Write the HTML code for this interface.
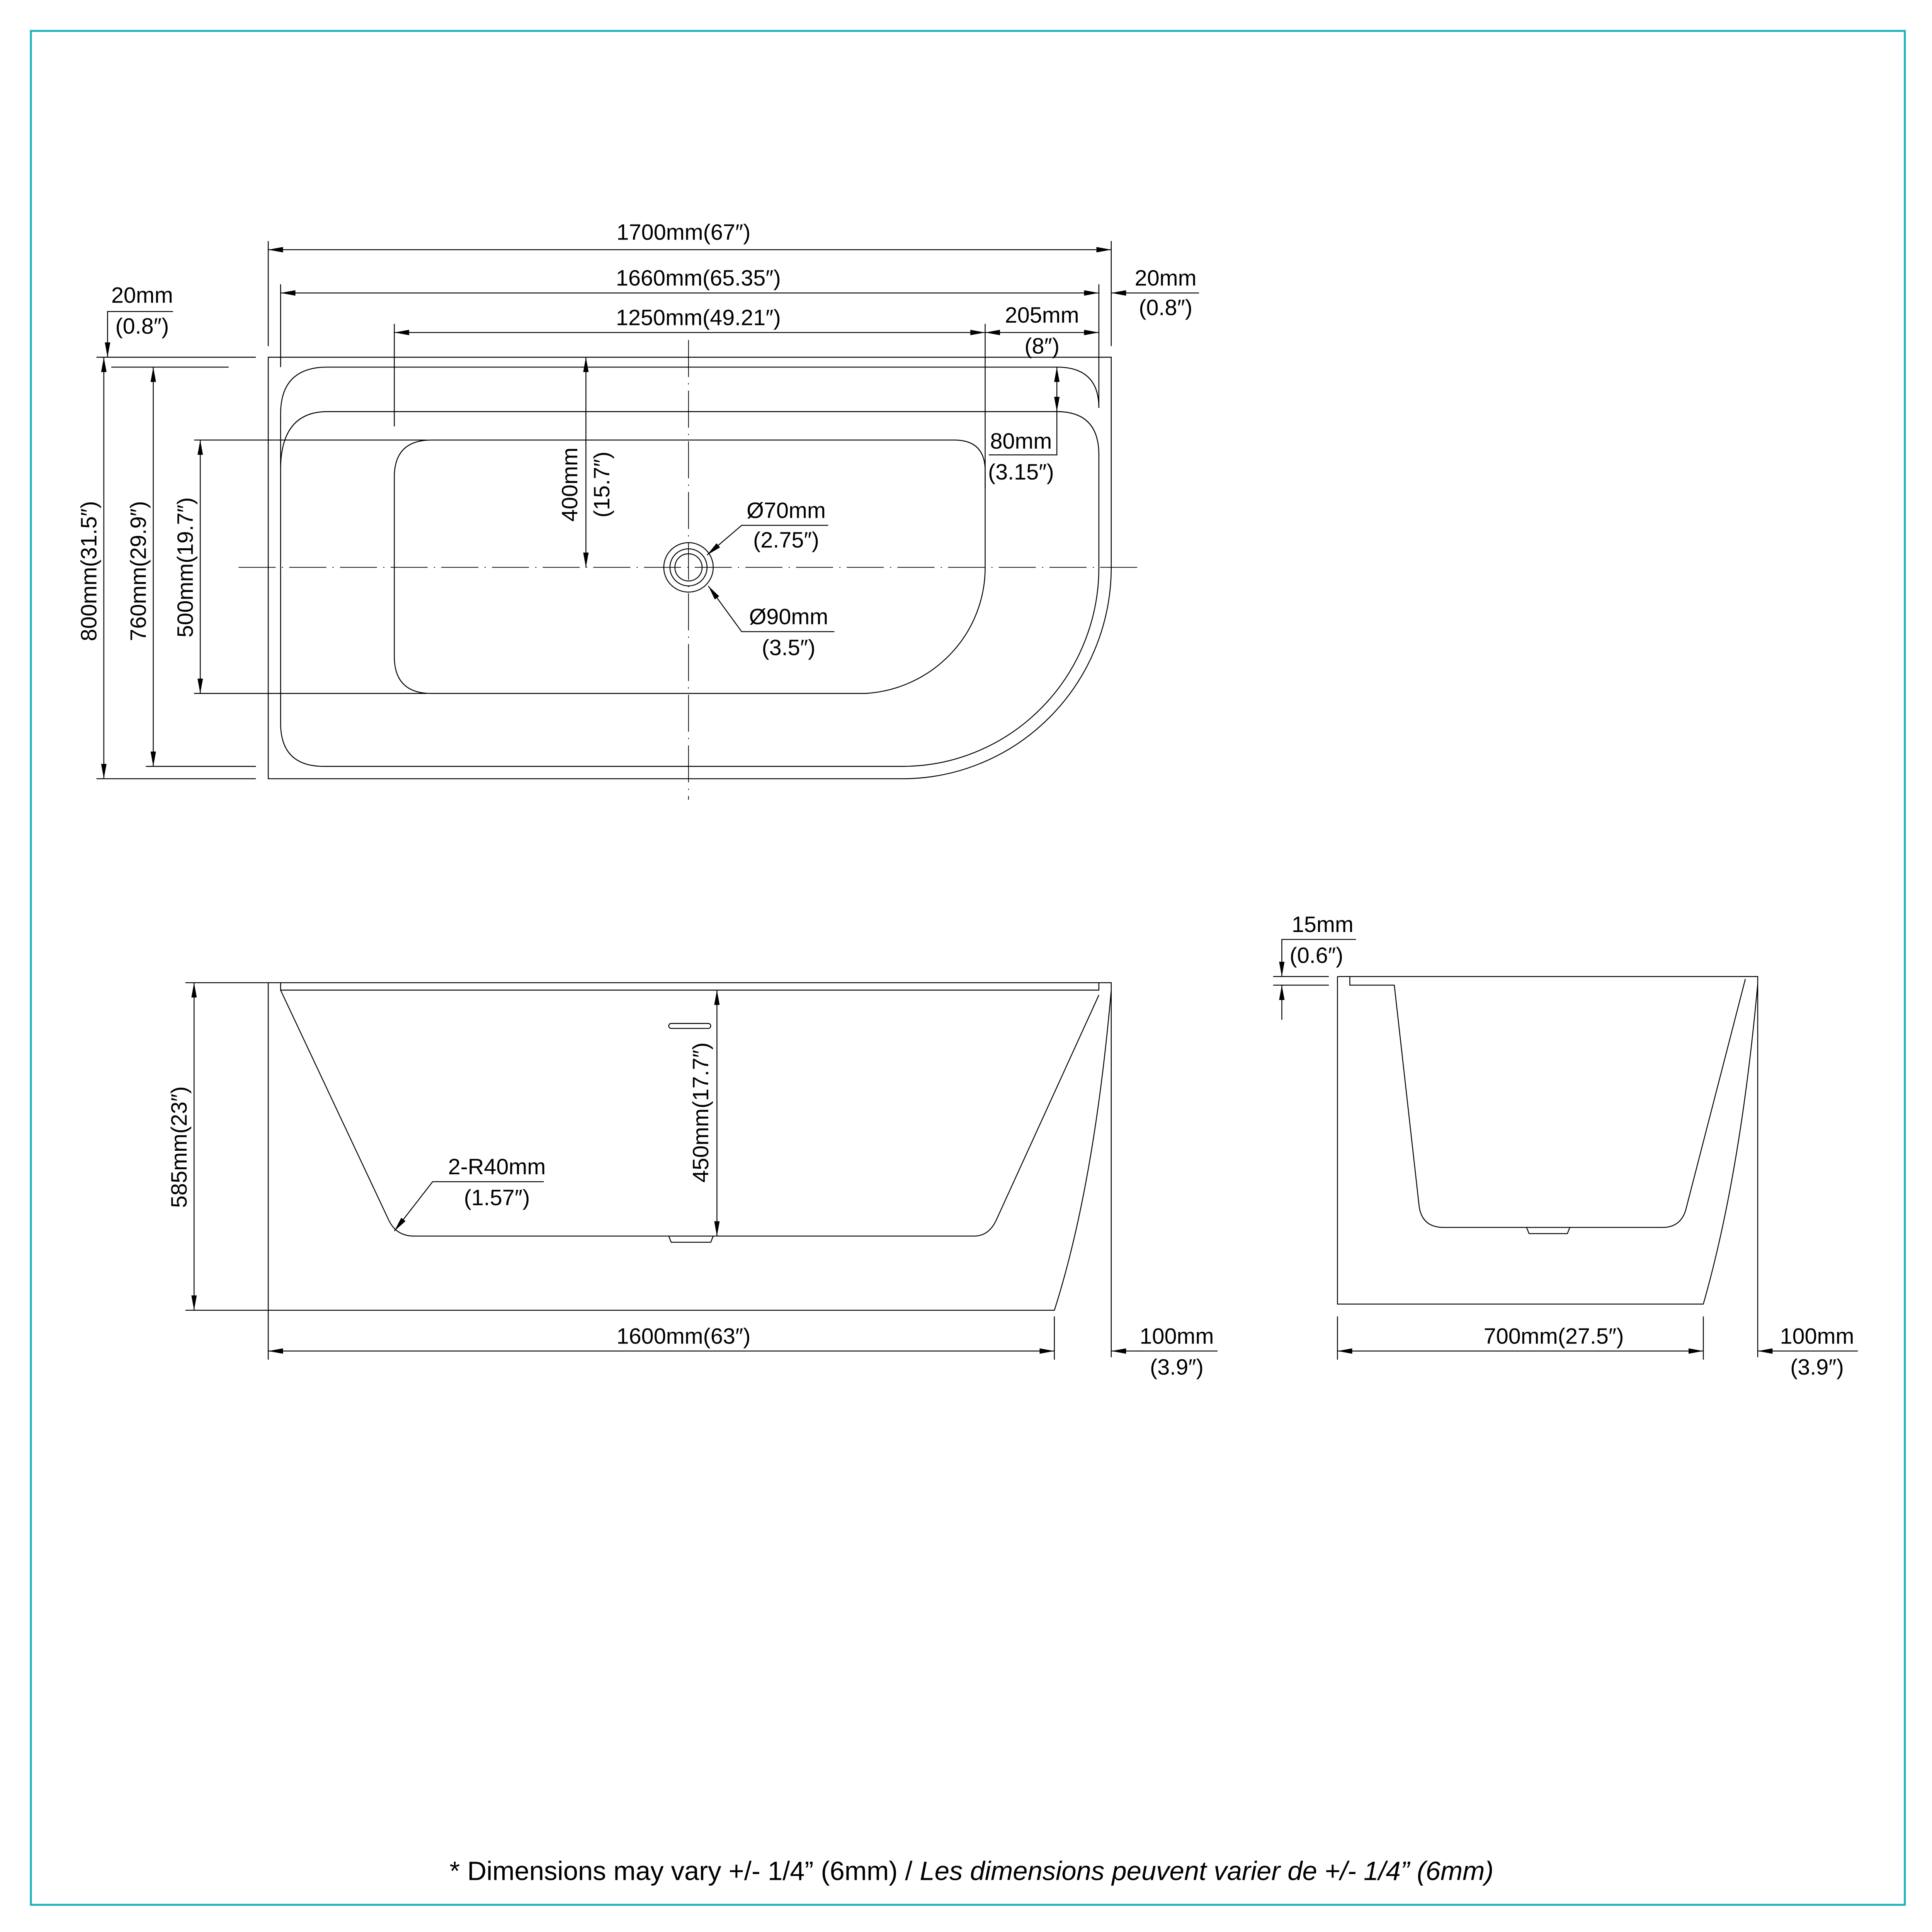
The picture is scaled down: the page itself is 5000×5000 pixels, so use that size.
<!DOCTYPE html>
<html><head><meta charset="utf-8"><style>
html,body{margin:0;padding:0;background:#fff}
svg{display:block}
text{font-family:"Liberation Sans",sans-serif;font-size:18px;fill:#000}
</style></head><body>
<svg width="5000" height="5000" viewBox="0 0 1563 1563" xmlns="http://www.w3.org/2000/svg">
<defs>
<marker id="a" markerUnits="userSpaceOnUse" markerWidth="12" markerHeight="6" refX="12" refY="3" orient="auto-start-reverse" viewBox="0 0 12 6"><path d="M12,3 L0,0.8 L0,5.2 Z" fill="#000"/></marker>
</defs>
<rect x="25" y="25" width="1516" height="1516" fill="none" stroke="#1ab3bf" stroke-width="1.6"/>
<g fill="none" stroke="#000" stroke-width="0.75">
<!-- TOP VIEW -->
<path d="M217,289 L899,289 L899,459 A169,171 0 0 1 730,630 L217,630 Z"/>
<path d="M227,335 Q227,297 265,297 L855,297 Q889,297 889,330"/>
<path d="M227,380 Q227,333 265,333 L855,333 Q889,333 889,368 L889,459 A159,161 0 0 1 730,620 L262,620 Q227,620 227,585 L227,335"/>
<path d="M349,356 L772,356 Q797,356 797,381 L797,459 A103,102 0 0 1 700,561 L349,561 Q319,561 319,531 L319,386 Q319,356 349,356 Z"/>
<circle cx="557" cy="459" r="20"/><circle cx="557" cy="459" r="15"/><circle cx="557" cy="459" r="11"/>
<path d="M193,459 L923,459 M557,275 L557,647" stroke-width="0.6" stroke-dasharray="30,5,1,5"/>
<path d="M217,195 L217,280 M899,195 L899,280 M227,230 L227,297 M889,230 L889,330 M319,262 L319,345 M797,262 L797,395"/>
<path d="M78,289 L207,289 M78,630 L207,630 M90,297 L185,297 M118,620 L207,620 M157,356 L345,356 M157,561 L345,561"/>
<path d="M217,202 L899,202" marker-start="url(#a)" marker-end="url(#a)"/>
<path d="M227,237 L889,237" marker-start="url(#a)" marker-end="url(#a)"/>
<path d="M319,269 L797,269" marker-start="url(#a)" marker-end="url(#a)"/>
<path d="M797,269 L889,269" marker-start="url(#a)" marker-end="url(#a)"/>
<path d="M915,237 L899,237" marker-end="url(#a)"/><path d="M915,237 L970,237"/>
<path d="M84,289 L84,630" marker-start="url(#a)" marker-end="url(#a)"/>
<path d="M124,297 L124,620" marker-start="url(#a)" marker-end="url(#a)"/>
<path d="M162,356 L162,561" marker-start="url(#a)" marker-end="url(#a)"/>
<path d="M140,252 L87,252 L87,289" marker-end="url(#a)"/>
<path d="M474,289 L474,459" marker-start="url(#a)" marker-end="url(#a)"/>
<path d="M855,297 L855,333" marker-start="url(#a)" marker-end="url(#a)"/>
<path d="M855,333 L855,368 L800,368"/>
<path d="M670,425 L600,425 L572,449" marker-end="url(#a)"/>
<path d="M675,511 L600,511 L573,474" marker-end="url(#a)"/>
<!-- FRONT VIEW -->
<path d="M217,795 L899,795 L899,1098 M217,795 L217,1100 M217,1060 L853,1060 Q885,960 899,801"/>
<path d="M227,795 L227,801 L889,801 L889,795"/>
<path d="M227,801 L314,986 Q320,1000 335,1000 L788,1000 Q800,1000 806,987 L889,805"/>
<rect x="541" y="828" width="34" height="4" rx="2"/>
<path d="M541,1000 L543,1005 L575,1005 L577,1000"/>
<path d="M580,801 L580,1000" marker-start="url(#a)" marker-end="url(#a)"/>
<path d="M150,795 L217,795 M150,1060 L217,1060"/>
<path d="M157,795 L157,1060" marker-start="url(#a)" marker-end="url(#a)"/>
<path d="M440,956 L350,956 L319,996" marker-end="url(#a)"/>
<path d="M853,1065 L853,1100"/>
<path d="M217,1093 L853,1093" marker-start="url(#a)" marker-end="url(#a)"/>
<path d="M915,1093 L899,1093" marker-end="url(#a)"/><path d="M915,1093 L985,1093"/>
<!-- SIDE VIEW -->
<path d="M1082,790 L1422,790 L1422,1098 M1082,790 L1082,1055 L1378,1055 Q1408,950 1422,796"/>
<path d="M1092,790 L1092,797 L1128,797 L1148,975 Q1150,993 1168,993 L1345,993 Q1360,993 1364,978 L1412,792"/>
<path d="M1235,993 L1237,998 L1268,998 L1270,993"/>
<path d="M1030,790 L1075,790 M1030,797 L1075,797"/>
<path d="M1097,760 L1037,760 L1037,790" marker-end="url(#a)"/>
<path d="M1037,825 L1037,797" marker-end="url(#a)"/>
<path d="M1082,1065 L1082,1100 M1378,1065 L1378,1100"/>
<path d="M1082,1093 L1378,1093" marker-start="url(#a)" marker-end="url(#a)"/>
<path d="M1438,1093 L1422,1093" marker-end="url(#a)"/><path d="M1438,1093 L1503,1093"/>
</g>
<g text-anchor="middle">
<text x="553" y="194">1700mm(67″)</text>
<text x="565" y="231">1660mm(65.35″)</text>
<text x="565" y="263">1250mm(49.21″)</text>
<text x="843" y="261">205mm</text>
<text x="843" y="286">(8″)</text>
<text x="943" y="231">20mm</text>
<text x="943" y="255">(0.8″)</text>
<text x="115" y="245">20mm</text>
<text x="115" y="270">(0.8″)</text>
<text x="826" y="363">80mm</text>
<text x="826" y="388">(3.15″)</text>
<text x="636" y="419">Ø70mm</text>
<text x="636" y="443">(2.75″)</text>
<text x="638" y="505">Ø90mm</text>
<text x="638" y="530">(3.5″)</text>
<text transform="translate(78,462) rotate(-90)">800mm(31.5″)</text>
<text transform="translate(118,462) rotate(-90)">760mm(29.9″)</text>
<text transform="translate(156,459) rotate(-90)">500mm(19.7″)</text>
<text transform="translate(467,392) rotate(-90)">400mm</text>
<text transform="translate(493,392) rotate(-90)">(15.7″)</text>
<text transform="translate(151,928) rotate(-90)">585mm(23″)</text>
<text transform="translate(573,900) rotate(-90)">450mm(17.7″)</text>
<text x="402" y="950">2-R40mm</text>
<text x="402" y="975">(1.57″)</text>
<text x="553" y="1087">1600mm(63″)</text>
<text x="952" y="1087">100mm</text>
<text x="952" y="1112">(3.9″)</text>
<text x="1070" y="754">15mm</text>
<text x="1065" y="779">(0.6″)</text>
<text x="1257" y="1087">700mm(27.5″)</text>
<text x="1470" y="1087">100mm</text>
<text x="1470" y="1112">(3.9″)</text>
<text x="786" y="1521" style="font-size:21.5px">* Dimensions may vary +/- 1/4” (6mm) / <tspan font-style="italic">Les dimensions peuvent varier de +/- 1/4” (6mm)</tspan></text>
</g>
</svg>
</body></html>
